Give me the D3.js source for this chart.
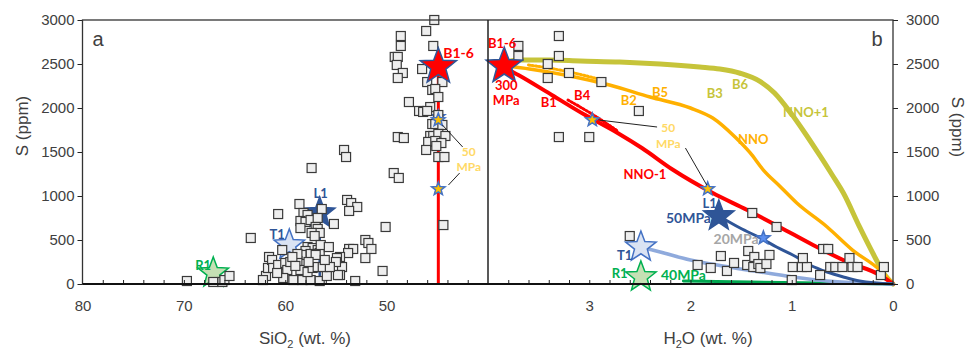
<!DOCTYPE html>
<html>
<head>
<meta charset="utf-8">
<script src="https://cdn.jsdelivr.net/npm/d3@7"></script>
<style>
  body { margin: 0; background: #fff; }
  svg { display: block; }
</style>
</head>
<body>
<div id="chart"></div>
<script>
// ---- data ----
const sio2Ticks = [80, 70, 60, 50];
const h2oTicks = [3, 2, 1, 0];
const sTicks = [0, 500, 1000, 1500, 2000, 2500, 3000];

// panel a: melt inclusions [SiO2 wt%, S ppm]
const sio2Samples = [
  [45.3,3000],[46.1,2875],[48.6,2818],[48.6,2705],[45.4,2705],[49.2,2580],[48.9,2580],
  [49.0,2489],[48.4,2398],[46.5,2443],[48.9,2341],[46.0,2295],[44.5,2295],[45.5,2205],
  [45.2,2216],[44.9,2125],[47.8,2068],[46.8,1966],[45.7,2011],[46.4,1955],[46.0,1966],
  [44.9,1920],[45.5,1818],[45.2,1818],[44.5,1807],[48.9,1670],[48.3,1659],[45.7,1682],
  [45.4,1682],[44.9,1705],[44.2,1682],[45.9,1614],[45.2,1625],[44.6,1602],[45.1,1568],
  [46.1,1523],[44.9,1443],[44.3,1443],[49.3,1261],[48.8,1205],[54.2,1523],[54.0,1443],
  [57.4,1318],[53.9,955],[53.5,920],[52.9,875],[53.7,830],[50.1,648],[44.4,670],
  [52.1,500],[51.8,466],[51.5,398],[53.7,398],[53.3,398],[53.8,352],[52.1,295],
  [50.4,148],[53.1,34],[54.6,307],[54.4,193],[54.6,102],[58.6,909],[60.7,795],
  [58.2,807],[57.8,784],[58.5,716],[58.0,705],[57.5,727],[56.4,852],[56.8,750],
  [55.2,682],[57.0,648],[56.8,625],[56.6,580],[57.4,580],[57.1,545],[58.5,636],
  [63.4,523],[57.8,420],[57.3,409],[56.8,386],[56.6,352],[58.0,375],[57.5,341],
  [57.0,330],[58.4,330],[54.9,295],[55.0,250],[69.7,34],[67.1,23],[66.2,23],
  [66.0,45],[65.5,91],[61.9,91],[61.6,307],[61.7,182],[61.3,273],[61.2,182],
  [60.7,216],[60.0,239],[59.8,159],[59.5,250],[58.8,261],[60.2,68],[59.2,45],
  [58.3,45],[57.5,45],[56.6,34],[55.9,91],[54.8,102],[60.8,125],[58.5,159],
  [57.8,136],[57.3,182],[56.8,193],[56.3,193],[55.6,193],[58.8,341],[59.3,307],
  [60.3,386],[57.7,250],[59.0,205],[56.5,443],[56.1,273],[55.7,420],[62.2,45]
];

// panel b: melt inclusions [H2O wt%, S ppm]
const h2oSamples = [
  [3.70,2705],[3.70,2591],[3.30,2818],[3.30,2591],[3.41,2500],[3.41,2341],[3.20,2398],
  [2.88,2295],[2.51,1966],[3.30,1670],[3.00,1670],[2.60,545],[1.93,216],[1.80,182],
  [1.70,318],[1.64,148],[1.57,239],[1.44,216],[1.43,375],[1.37,307],[1.38,193],
  [1.33,227],[1.31,182],[1.25,227],[1.22,330],[1.39,807],[1.15,648],[1.00,45],
  [0.99,193],[0.90,193],[0.85,193],[0.89,295],[0.72,102],[0.69,398],[0.64,398],
  [0.62,193],[0.57,193],[0.50,193],[0.43,295],[0.40,193],[0.35,193],[0.12,102],
  [0.09,193]
];

// degassing paths [H2O wt%, S ppm]
const curveNNOplus1 = [
  [3.83,2523],[3.68,2545],[3.39,2545],[3.09,2534],[2.70,2523],[2.30,2500],[1.91,2466],
  [1.71,2443],[1.51,2395],[1.31,2300],[1.17,2170],[1.02,1960],[0.87,1716],[0.72,1455],
  [0.60,1239],[0.49,1034],[0.33,648],[0.20,352],[0.08,102],[0,0]
];
const curveNNO = [
  [3.83,2477],[3.59,2443],[3.19,2364],[2.80,2261],[2.40,2125],[2.00,2000],[1.78,1886],
  [1.56,1670],[1.41,1489],[1.28,1295],[1.12,1114],[0.95,920],[0.65,648],[0.40,386],
  [0.13,159],[0,0]
];
const curveNNOminus1 = [
  [3.83,2455],[3.70,2375],[3.37,2148],[3.04,1920],[2.72,1716],[2.48,1545],[2.17,1295],
  [1.78,1034],[1.44,841],[1.12,648],[0.79,443],[0.45,250],[0.13,102],[0,0]
];
const curveB2 = [[3.60,2489],[3.24,2420],[2.87,2318]];
const curveB4 = [[3.21,2091],[2.99,1943],[2.72,1739]];
const curveL1 = [
  [1.72,773],[1.51,636],[1.31,523],[1.15,420],[0.99,330],[0.82,216],[0.65,136],
  [0.49,80],[0.33,34],[0,0]
];
const curveT1 = [
  [2.49,420],[2.30,364],[2.00,273],[1.68,205],[1.31,136],[0.99,80],[0.65,34],[0.33,11],[0,0]
];
const curveR1 = [[2.07,34],[1.41,23],[0.72,11],[0,0]];

// starting compositions
const sio2Stars = [
  ['T1', 59.6, 443], ['L1', 56.6, 807], ['R1', 67.1, 125],
  ['blue20', 44.9, 1900], ['B1-6', 44.9, 2470], ['gold', 44.9, 1864], ['gold', 44.9, 1080]
];
const h2oStars = [
  ['B1-6', 3.84, 2477], ['gold', 2.97, 1864], ['gold', 1.83, 1080], ['L1', 1.72, 773],
  ['blue20', 1.28, 523], ['T1', 2.49, 420], ['R1', 2.49, 80]
];

// ---- layout ----
const width = 971;
const height = 350;
const red = '#ff0000', orange = '#ffb000', olive = '#c6c43a', navy = '#2f5597',
  lightBlue = '#8faadc', green = '#00a650', paleGold = '#ffd966';
const axisFont = '"Liberation Sans", Arial, sans-serif';
const noteFont = 'Lato, "Open Sans", sans-serif';

const starStyle = {
  'B1-6': { r: 19, fill: red, stroke: navy },
  'L1': { r: 16, fill: navy, stroke: navy },
  'T1': { r: 16, fill: '#dae3f3', stroke: '#4472c4' },
  'R1': { r: 16, fill: '#c5e0b4', stroke: '#00b050' },
  'gold': { r: 7, fill: '#ffc000', stroke: '#4472c4' },
  'blue20': { r: 7, fill: '#5b8ff0', stroke: '#4472c4' }
};

const svg = d3.select('#chart')
  .append('svg')
  .attr('width', width)
  .attr('height', height);

const y = d3.scaleLinear().domain([0, 3000]).range([284, 20]);
const xL = d3.scaleLinear().domain([80, 40]).range([82.5, 488]);
const xR = d3.scaleLinear().domain([4, 0]).range([488, 893]);

function starPath(r)
{
  const pts = d3.range(10).map(i => [i * Math.PI / 5, i % 2 ? r * 0.42 : r]);
  return d3.lineRadial().curve(d3.curveLinearClosed)(pts);
}

function styleAxis(g)
{
  g.select('.domain').remove();
  g.selectAll('line').attr('stroke', '#222');
  g.selectAll('text')
    .attr('font-family', axisFont)
    .attr('font-size', 15)
    .attr('fill', '#404040');
}

function drawCurve(x, data, color, w, dash)
{
  svg.append('path')
    .datum(data)
    .attr('fill', 'none')
    .attr('stroke', color)
    .attr('stroke-width', w)
    .attr('stroke-dasharray', dash || null)
    .attr('stroke-linecap', 'round')
    .attr('d', d3.line().x(d => x(d[0])).y(d => y(d[1])).curve(d3.curveMonotoneX));
}

function drawSquares(x, data)
{
  svg.append('g').selectAll('rect')
    .data(data)
    .enter()
    .append('rect')
    .attr('x', d => x(d[0]) - 4.5)
    .attr('y', d => y(d[1]) - 4.5)
    .attr('width', 9)
    .attr('height', 9)
    .attr('fill', '#eeeeee')
    .attr('stroke', '#3a3a3a')
    .attr('stroke-width', 1.2);
}

function drawStars(x, data)
{
  svg.append('g').selectAll('path')
    .data(data)
    .enter()
    .append('path')
    .attr('transform', d => `translate(${x(d[1])},${y(d[2])})`)
    .attr('d', d => starPath(starStyle[d[0]].r))
    .attr('fill', d => starStyle[d[0]].fill)
    .attr('stroke', d => starStyle[d[0]].stroke)
    .attr('stroke-width', 1.5);
}

function note(x, xv, sv, text, color, size)
{
  svg.append('text')
    .attr('x', x(xv))
    .attr('y', y(sv))
    .attr('dy', '0.35em')
    .attr('text-anchor', 'middle')
    .attr('font-family', noteFont)
    .attr('font-weight', 700)
    .attr('font-size', size || 13)
    .attr('fill', color)
    .text(text);
}

function leader(x, a, b)
{
  svg.append('line')
    .attr('x1', x(a[0])).attr('y1', y(a[1]))
    .attr('x2', x(b[0])).attr('y2', y(b[1]))
    .attr('stroke', '#222')
    .attr('stroke-width', 1);
}

// ---- panel a ----
svg.append('line')
  .attr('x1', xL(44.9)).attr('x2', xL(44.9))
  .attr('y1', y(2470)).attr('y2', y(0))
  .attr('stroke', red).attr('stroke-width', 3);
svg.append('line')
  .attr('x1', xL(56.6)).attr('x2', xL(56.6))
  .attr('y1', y(807)).attr('y2', y(0))
  .attr('stroke', navy).attr('stroke-width', 2.5);

drawStars(xL, sio2Stars.slice(0, 4));
drawSquares(xL, sio2Samples);
drawStars(xL, sio2Stars.slice(4));

leader(xL, [44.5, 1807], [42.5, 1557]);
leader(xL, [43.9, 1125], [42.8, 1261]);
note(xL, 42.9, 2625, 'B1-6', red, 14);
note(xL, 41.9, 1505, '50', paleGold, 12);
note(xL, 41.9, 1335, 'MPa', paleGold, 12);
note(xL, 56.5, 1034, 'L1', navy, 13);
note(xL, 60.8, 568, 'T1', navy, 13);
note(xL, 68.1, 216, 'R1', '#00b050', 13);

// ---- panel b ----
drawCurve(xR, curveNNOplus1, olive, 5);
drawCurve(xR, curveNNO, orange, 3.5);
drawCurve(xR, curveB2, orange, 3, '1.5 2');
drawCurve(xR, curveNNOminus1, red, 4);
drawCurve(xR, curveB4, red, 3, '1.5 2');
drawCurve(xR, curveR1, green, 3);
drawCurve(xR, curveT1, lightBlue, 3.5);
drawCurve(xR, curveL1, navy, 3);

drawSquares(xR, h2oSamples);
drawStars(xR, h2oStars);

leader(xR, [2.91, 1864], [2.33, 1784]);
leader(xR, [2.05, 1545], [1.84, 1125]);
note(xR, 3.86, 2739, 'B1-6', red, 13);
note(xR, 3.82, 2260, '300', red, 13);
note(xR, 3.82, 2085, 'MPa', red, 13);
note(xR, 3.40, 2068, 'B1', red);
note(xR, 3.07, 2148, 'B4', red);
note(xR, 2.61, 2091, 'B2', orange);
note(xR, 2.30, 2182, 'B5', orange);
note(xR, 1.76, 2170, 'B3', olive);
note(xR, 1.51, 2270, 'B6', olive);
note(xR, 0.86, 1955, 'NNO+1', olive);
note(xR, 1.38, 1648, 'NNO', orange);
note(xR, 2.45, 1250, 'NNO-1', red);
note(xR, 2.22, 1770, '50', paleGold, 12);
note(xR, 2.22, 1590, 'MPa', paleGold, 12);
note(xR, 1.81, 920, 'L1', navy);
note(xR, 2.02, 750, '50MPa', navy, 14);
note(xR, 1.55, 511, '20MPa', '#a6a6a6', 14);
note(xR, 2.65, 330, 'T1', navy);
note(xR, 2.70, 125, 'R1', '#00b050');
note(xR, 2.07, 102, '40MPa', '#00b050', 14);

// ---- axes ----
svg.append('g')
  .attr('transform', `translate(0,${y(0)})`)
  .call(d3.axisBottom(xL).tickValues(sio2Ticks).tickFormat(d3.format('d')).tickSize(0).tickPadding(16))
  .call(styleAxis);
svg.append('g')
  .attr('transform', `translate(0,${y(0)})`)
  .call(d3.axisBottom(xL).tickValues(d3.range(78, 41, -2)).tickSize(-4).tickFormat(''))
  .call(styleAxis);
svg.append('g')
  .attr('transform', `translate(0,${y(0)})`)
  .call(d3.axisBottom(xR).tickValues(h2oTicks).tickFormat(d3.format('d')).tickSize(0).tickPadding(16))
  .call(styleAxis);
svg.append('g')
  .attr('transform', `translate(0,${y(0)})`)
  .call(d3.axisBottom(xR).tickValues(d3.range(3.8, 0.1, -0.2)).tickSize(-4).tickFormat(''))
  .call(styleAxis);
svg.append('g')
  .attr('transform', `translate(${xL(80)},0)`)
  .call(d3.axisLeft(y).tickValues(sTicks).tickFormat(d3.format('d')).tickSize(5).tickPadding(3))
  .call(styleAxis);
svg.append('g')
  .attr('transform', `translate(${xR(0)},0)`)
  .call(d3.axisRight(y).tickValues(sTicks).tickFormat(d3.format('d')).tickSize(5).tickPadding(8))
  .call(styleAxis);

// frame
svg.append('rect')
  .attr('x', xL(80)).attr('y', y(3000))
  .attr('width', xR(0) - xL(80)).attr('height', y(0) - y(3000))
  .attr('fill', 'none').attr('stroke', '#333').attr('stroke-width', 1.3);
svg.append('line')
  .attr('x1', xR(4)).attr('x2', xR(4)).attr('y1', y(3000)).attr('y2', y(0))
  .attr('stroke', '#222').attr('stroke-width', 1.5);
svg.append('line')
  .attr('x1', xL(80)).attr('x2', xR(0)).attr('y1', y(0)).attr('y2', y(0))
  .attr('stroke', '#111').attr('stroke-width', 2);

// panel letters and axis titles
svg.append('text').attr('x', 98).attr('y', 46).attr('text-anchor', 'middle')
  .attr('font-family', axisFont).attr('font-size', 20).attr('fill', '#404040').text('a');
svg.append('text').attr('x', 877).attr('y', 46).attr('text-anchor', 'middle')
  .attr('font-family', axisFont).attr('font-size', 20).attr('fill', '#404040').text('b');

const sioTitle = svg.append('text')
  .attr('x', 305).attr('y', 344).attr('text-anchor', 'middle')
  .attr('font-family', axisFont).attr('font-size', 17).attr('fill', '#404040');
sioTitle.append('tspan').text('SiO');
sioTitle.append('tspan').attr('font-size', 11).attr('dy', 4).text('2');
sioTitle.append('tspan').attr('dy', -4).text(' (wt. %)');

const h2oTitle = svg.append('text')
  .attr('x', 708).attr('y', 344).attr('text-anchor', 'middle')
  .attr('font-family', axisFont).attr('font-size', 17).attr('fill', '#404040');
h2oTitle.append('tspan').text('H');
h2oTitle.append('tspan').attr('font-size', 11).attr('dy', 4).text('2');
h2oTitle.append('tspan').attr('dy', -4).text('O (wt. %)');

svg.append('text')
  .attr('transform', 'translate(28,126) rotate(-90)')
  .attr('text-anchor', 'middle')
  .attr('font-family', axisFont).attr('font-size', 17).attr('fill', '#404040')
  .text('S (ppm)');
svg.append('text')
  .attr('transform', 'translate(952,127) rotate(90)')
  .attr('text-anchor', 'middle')
  .attr('font-family', axisFont).attr('font-size', 17).attr('fill', '#404040')
  .text('S (ppm)');
</script>
</body>
</html>
